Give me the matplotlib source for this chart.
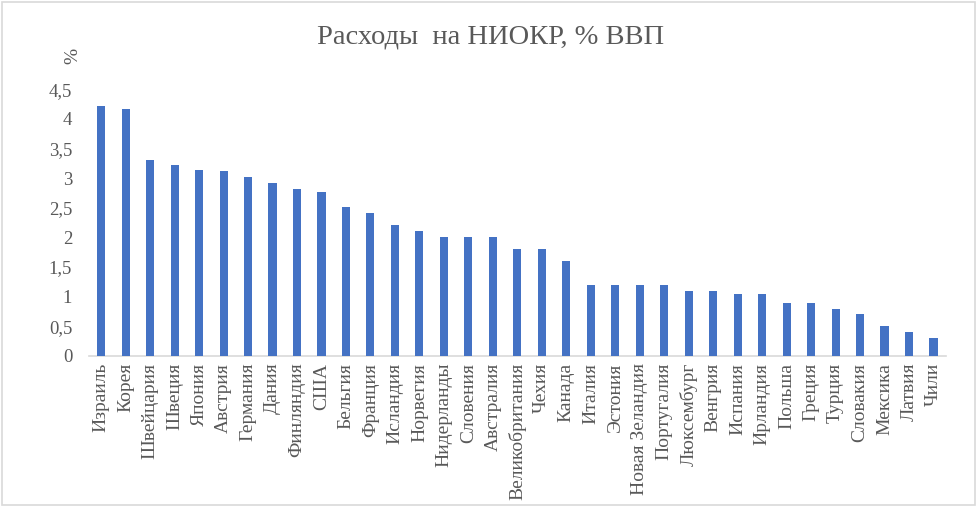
import matplotlib
matplotlib.use("Agg")
import matplotlib.pyplot as plt
from matplotlib.patches import Rectangle

countries = ["Израиль", "Корея", "Швейцария", "Швеция", "Япония", "Австрия", "Германия",
             "Дания", "Финляндия", "США", "Бельгия", "Франция", "Исландия", "Норвегия",
             "Нидерланды", "Словения", "Австралия", "Великобритания", "Чехия", "Канада",
             "Италия", "Эстония", "Новая Зеландия", "Португалия", "Люксембург", "Венгрия",
             "Испания", "Ирландия", "Польша", "Греция", "Турция", "Словакия", "Мексика",
             "Латвия", "Чили"]
values = [4.21, 4.16, 3.3, 3.22, 3.14, 3.12, 3.02,
          2.92, 2.82, 2.77, 2.51, 2.41, 2.21, 2.11,
          2.01, 2.01, 2.01, 1.8, 1.8, 1.6,
          1.2, 1.2, 1.2, 1.2, 1.1, 1.1,
          1.05, 1.05, 0.9, 0.9, 0.8, 0.7, 0.5,
          0.4, 0.3]
yticks = [0, 0.5, 1, 1.5, 2, 2.5, 3, 3.5, 4, 4.5]
ytick_labels = ["0", "0,5", "1", "1,5", "2", "2,5", "3", "3,5", "4", "4,5"]

plt.rcParams['font.family'] = ['Liberation Serif', 'DejaVu Serif']
text_color = "#595959"

fig = plt.figure(figsize=(9.77, 5.07), dpi=100)
ax = fig.add_axes([0.091, 0.298, 0.877, 0.526])

x = list(range(len(countries)))
ax.bar(x, values, width=0.33, color="#4472C4", zorder=3)
ax.set_xlim(-0.5, len(countries) - 0.5)
ax.set_ylim(0, 4.5)
ax.set_yticks(yticks)
ax.set_yticklabels(ytick_labels, fontsize=13.5, color=text_color)
ax.set_xticks(x)
ax.set_xticklabels(countries, rotation=90, fontsize=14, color=text_color)
ax.tick_params(axis="both", length=0)
ax.tick_params(axis="y", pad=12)
ax.tick_params(axis="x", pad=5)
for s in ["top", "right", "left"]:
    ax.spines[s].set_visible(False)
ax.spines["bottom"].set_color("#D9D9D9")
ax.spines["bottom"].set_linewidth(1.2)

fig.text(0.502, 0.928, "Расходы  на НИОКР, % ВВП", ha="center", va="center",
         fontsize=20.5, color=text_color)
fig.text(0.075, 0.89, "%", rotation=90, ha="center", va="center",
         fontsize=14, color=text_color)

fig.patches.append(Rectangle((0.002, 0.003), 0.996, 0.994, transform=fig.transFigure,
                             fill=False, edgecolor="#D9D9D9", linewidth=1.2))

fig.savefig("out.png", dpi=100)
